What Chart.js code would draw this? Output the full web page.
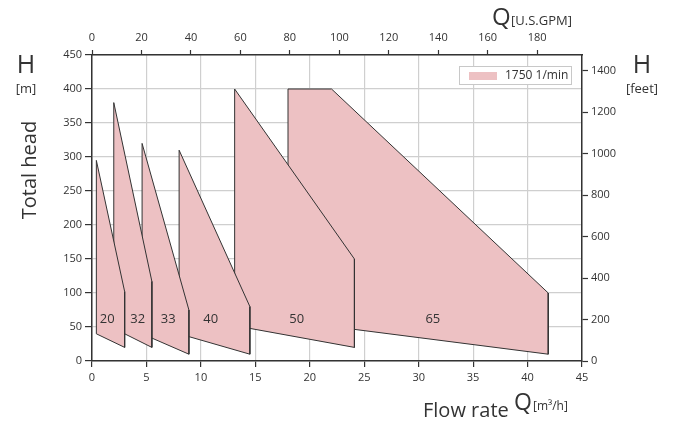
<!DOCTYPE html>
<html>
<head>
<meta charset="utf-8">
<style>
  html, body { margin: 0; padding: 0; background: #fff; }
</style>
<script src="https://cdn.jsdelivr.net/npm/chart.js@4.4.0/dist/chart.umd.min.js"></script>
</head>
<body>
<canvas id="chart" width="673" height="421"></canvas>
<script>
// pump sizes, one polygon each (flow m3/h, head m), drawn in this order (first on top)
const pumpSizes = ['20', '32', '33', '40', '50', '65'];

const flow20 = [0.4, 0.4, 3.0, 3.0];
const head20 = [40, 295, 102, 20];
const flow32 = [2.0, 2.0, 5.5, 5.5];
const head32 = [48, 380, 117, 20];
const flow33 = [4.6, 4.6, 8.9, 8.9];
const head33 = [40, 320, 75, 10];
const flow40 = [8.0, 8.0, 14.5, 14.5];
const head40 = [40, 310, 80, 10];
const flow50 = [13.1, 13.1, 24.1, 24.1];
const head50 = [52, 400, 150, 20];
const flow65 = [18.0, 18.0, 22.0, 41.9, 41.9];
const head65 = [59, 400, 400, 100, 10];

// where the size numbers sit (flow m3/h, head m)
const labelFlow = [1.4, 4.2, 7.0, 10.9, 18.8, 31.3];
const labelHead = [62, 62, 62, 62, 62, 62];

const speedLabel = '1750 1/min';

const GPM_PER_M3H = 4.40287;
const FT_PER_M = 3.28084;

const flows = [flow20, flow32, flow33, flow40, flow50, flow65];
const heads = [head20, head32, head33, head40, head50, head65];

const fillColor = '#edc1c3';
const edgeColor = '#333333';
const axisColor = '#333333';
const gridColor = '#cfcfcf';
const textColor = '#333333';
const FONT = '"Open Sans", "Noto Sans", sans-serif';

var datasets = pumpSizes.map(function (size, i) {
	var pts = flows[i].map(function (q, j) { return {x: q, y: heads[i][j]}; });
	pts.push(pts[0]); // close the outline
	return {
		label: size,
		data: pts,
		fill: 'shape',
		backgroundColor: fillColor,
		borderColor: edgeColor,
		borderWidth: 1,
		pointRadius: 0,
		pointHoverRadius: 0,
		tension: 0,
		borderJoinStyle: 'miter'
	};
});

function tickFont() { return {family: FONT, size: 11}; }
function plain(v) { return String(v); } // no thousands comma

// texts round the plot and the small legend box
const decor = {
	id: 'decor',
	afterDatasetsDraw(chart) {
		var ctx = chart.ctx;
		var xs = chart.scales.x, ys = chart.scales.y;
		ctx.save();
		ctx.fillStyle = textColor;
		ctx.font = '13px ' + FONT;
		ctx.textAlign = 'center';
		ctx.textBaseline = 'middle';
		pumpSizes.forEach(function (size, i) {
			ctx.fillText(size, xs.getPixelForValue(labelFlow[i]), ys.getPixelForValue(labelHead[i]));
		});
		ctx.restore();
	},
	afterDraw(chart) {
		var ctx = chart.ctx;
		var area = chart.chartArea;
		ctx.save();
		ctx.fillStyle = textColor;
		ctx.textBaseline = 'alphabetic';

		// left H [m]
		ctx.textAlign = 'center';
		ctx.font = '25px ' + FONT;
		ctx.fillText('H', 26, 73);
		ctx.font = '13px ' + FONT;
		ctx.fillText('[m]', 26, 93);

		// right H [feet]
		ctx.font = '25px ' + FONT;
		ctx.fillText('H', 642, 73);
		ctx.font = '13px ' + FONT;
		ctx.fillText('[feet]', 642, 93);

		// Total head
		ctx.save();
		ctx.translate(36, 170);
		ctx.rotate(-Math.PI / 2);
		ctx.font = '20px ' + FONT;
		ctx.textAlign = 'center';
		ctx.fillText('Total head', 0, 0);
		ctx.restore();

		// top Q [U.S.GPM]
		ctx.textAlign = 'left';
		ctx.font = '24px ' + FONT;
		ctx.fillText('Q', 492, 25);
		ctx.font = '13px ' + FONT;
		ctx.fillText('[U.S.GPM]', 511, 25);

		// bottom Flow rate Q [m3/h]
		ctx.font = '20px ' + FONT;
		ctx.fillText('Flow rate', 423, 417);
		ctx.font = '23px ' + FONT;
		ctx.fillText('Q', 514, 410);
		ctx.font = '12px ' + FONT;
		ctx.fillText('[m\u00b3/h]', 533, 410);

		// legend
		var bx = area.right - 123, by = area.top + 11, bw = 112, bh = 18;
		ctx.fillStyle = '#ffffff';
		ctx.fillRect(bx, by, bw, bh);
		ctx.strokeStyle = '#c8c8c8';
		ctx.lineWidth = 1;
		ctx.strokeRect(bx + 0.5, by + 0.5, bw, bh);
		ctx.fillStyle = chart.data.datasets[0].backgroundColor;
		ctx.fillRect(bx + 10, by + 6, 28, 8);
		ctx.fillStyle = textColor;
		ctx.font = '12px ' + FONT;
		ctx.textBaseline = 'middle';
		ctx.fillText(speedLabel, bx + 46, by + bh / 2 + 1);
		ctx.restore();
	}
};

new Chart(document.getElementById('chart'), {
	type: 'line',
	data: {datasets: datasets},
	options: {
		responsive: false,
		animation: false,
		devicePixelRatio: 1,
		layout: {padding: 0},
		plugins: {
			legend: {display: false},
			tooltip: {enabled: false},
			title: {display: false}
		},
		scales: {
			x: {
				type: 'linear', position: 'bottom', min: 0, max: 45,
				ticks: {stepSize: 5, color: textColor, font: tickFont(), padding: 4, callback: plain},
				grid: {color: gridColor, lineWidth: 1.2, tickColor: axisColor, tickLength: 6, tickWidth: 1.2},
				border: {color: axisColor, width: 1.5},
				afterFit(s) { s.height = 60; }
			},
			x2: {
				type: 'linear', position: 'top', min: 0, max: 45 * GPM_PER_M3H,
				ticks: {stepSize: 20, includeBounds: false, color: textColor, font: tickFont(), padding: 6, callback: plain},
				grid: {drawOnChartArea: false, tickColor: axisColor, tickLength: 5, tickWidth: 1.2},
				border: {color: axisColor, width: 1.5},
				afterFit(s) { s.height = 55; }
			},
			y: {
				type: 'linear', position: 'left', min: 0, max: 450,
				ticks: {stepSize: 50, color: textColor, font: tickFont(), padding: 3, callback: plain},
				grid: {color: gridColor, lineWidth: 1.2, tickColor: axisColor, tickLength: 7, tickWidth: 1.2},
				border: {color: axisColor, width: 1.5},
				afterFit(s) { s.width = 92; }
			},
			y2: {
				type: 'linear', position: 'right', min: 0, max: 450 * FT_PER_M,
				ticks: {stepSize: 200, includeBounds: false, color: textColor, font: tickFont(), padding: 3, callback: plain},
				grid: {drawOnChartArea: false, tickColor: axisColor, tickLength: 6, tickWidth: 1.2},
				border: {color: axisColor, width: 1.5},
				afterFit(s) { s.width = 91; }
			}
		}
	},
	plugins: [decor]
});
</script>
</body>
</html>
